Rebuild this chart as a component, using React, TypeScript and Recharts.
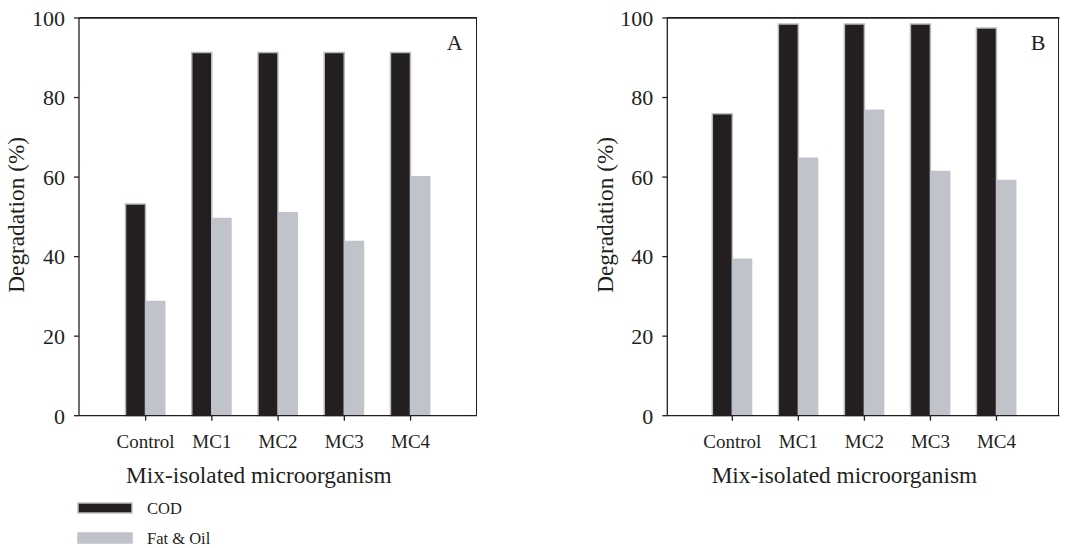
import { BarChart, Bar, XAxis, YAxis, Legend, ReferenceLine } from "recharts";

const categories = ["Control", "MC1", "MC2", "MC3", "MC4"];
const codA = [53.2, 91.3, 91.3, 91.3, 91.3];
const fatA = [28.9, 49.8, 51.2, 44.0, 60.3];
const codB = [75.9, 98.5, 98.5, 98.5, 97.5];
const fatB = [39.5, 64.9, 77.0, 61.6, 59.3];
const yTicks = [0, 20, 40, 60, 80, 100];

const FONT = "'Liberation Serif', 'Times New Roman', serif";
const INK = "#231f20";
const GREY = "#c0c4ca";

const series = [
  { key: "cod", name: "COD", fill: INK, stroke: "#b8bcc2" },
  { key: "fat", name: "Fat & Oil", fill: GREY, stroke: "none" },
];

const buildRows = (cod: number[], fat: number[]) =>
  categories.map((name, i) => ({ name, cod: cod[i], fat: fat[i] }));

const LegendBox = () => (
  <svg width={220} height={60} style={{ display: "block" }}>
    {series.map((s, i) => (
      <g key={s.key} transform={`translate(0, ${i * 30})`}>
        <rect
          x={1}
          y={10}
          width={54}
          height={10}
          fill={s.fill}
          stroke={s.stroke === "none" ? GREY : s.stroke}
          strokeWidth={1.5}
        />
        <text x={70} y={21} fontSize={16.5} fontFamily={FONT} fill={INK}>
          {s.name}
        </text>
      </g>
    ))}
  </svg>
);

type PanelProps = {
  cod: number[];
  fat: number[];
  tag: string;
  marginLeft: number;
  marginRight: number;
  padL: number;
  padR: number;
  withLegend: boolean;
};

const W = 532;
const H = 548;
const TOP = 18;
const BOTTOM = 415.7;
const YAXIS_W = 79;

const Panel = ({ cod, fat, tag, marginLeft, marginRight, padL, padR, withLegend }: PanelProps) => {
  const rows = buildRows(cod, fat);
  const plotLeft = marginLeft + YAXIS_W;
  const plotRight = W - marginRight;
  return (
    <div style={{ position: "relative", width: W, height: H }}>
      <BarChart
        width={W}
        height={H}
        data={rows}
        barSize={20}
        barGap={0}
        margin={{ top: TOP, right: marginRight, left: marginLeft, bottom: withLegend ? 0 : 60 }}
      >
        <XAxis
          dataKey="name"
          height={H - BOTTOM - 60}
          padding={{ left: padL, right: padR }}
          tickSize={5}
          tickMargin={14}
          stroke={INK}
          strokeWidth={1.3}
          tick={{ fontSize: 19, fill: INK, fontFamily: FONT }}
          label={(p: any) => {
            const vb = p.viewBox;
            return (
              <text
                x={vb.x + vb.width / 2 - 19}
                y={vb.y + 67.6}
                textAnchor="middle"
                fontSize={23.3}
                fontFamily={FONT}
                fill={INK}
              >
                Mix-isolated microorganism
              </text>
            );
          }}
        />
        <YAxis
          width={YAXIS_W}
          domain={[0, 100]}
          ticks={yTicks}
          tickSize={5}
          tickMargin={9}
          stroke={INK}
          strokeWidth={1.3}
          tick={{ fontSize: 22, fill: INK, fontFamily: FONT }}
          label={(p: any) => {
            const vb = p.viewBox;
            const cx = vb.x + vb.width - 62.5;
            const cy = vb.y + vb.height / 2 - 2;
            return (
              <text
                x={cx}
                y={cy}
                transform={`rotate(-90, ${cx}, ${cy})`}
                textAnchor="middle"
                dominantBaseline="central"
                fontSize={23.3}
                fontFamily={FONT}
                fill={INK}
              >
                Degradation (%)
              </text>
            );
          }}
        />
        <ReferenceLine y={100} stroke={INK} strokeWidth={1.5} ifOverflow="visible" />
        {withLegend && (
          <Legend
            layout="horizontal"
            verticalAlign="bottom"
            align="left"
            wrapperStyle={{ left: 77, top: 493, width: 220, height: 60 }}
            content={() => <LegendBox />}
          />
        )}
        {series.map((s) => (
          <Bar
            key={s.key}
            dataKey={s.key}
            name={s.name}
            fill={s.fill}
            stroke={s.stroke}
            strokeWidth={1.5}
            isAnimationActive={false}
          />
        ))}
      </BarChart>
      {/* top and right sides of the plot frame, plus the panel tag */}
      <div
        style={{
          position: "absolute",
          left: plotLeft,
          top: TOP - 0.75,
          width: plotRight - plotLeft,
          height: BOTTOM - TOP + 0.75,
          borderTop: `1.5px solid ${INK}`,
          borderRight: `1.5px solid ${INK}`,
          boxSizing: "border-box",
          pointerEvents: "none",
        }}
      />
      <div
        style={{
          position: "absolute",
          left: plotRight - 60,
          width: 46,
          top: 30,
          textAlign: "right",
          fontFamily: FONT,
          fontSize: 22,
          lineHeight: "26px",
          color: INK,
        }}
      >
        {tag}
      </div>
    </div>
  );
};

export default function App() {
  return (
    <div style={{ position: "absolute", left: 0, top: 0, width: 1065, height: 548, background: "#fff" }}>
      <div style={{ position: "absolute", left: 0, top: 0 }}>
        <Panel cod={codA} fat={fatA} tag="A" marginLeft={0} marginRight={55.3} padL={33.5} padR={33} withLegend />
      </div>
      <div style={{ position: "absolute", left: 533, top: 0 }}>
        <Panel cod={codB} fat={fatB} tag="B" marginLeft={55.3} marginRight={5.5} padL={32} padR={30} withLegend={false} />
      </div>
    </div>
  );
}
